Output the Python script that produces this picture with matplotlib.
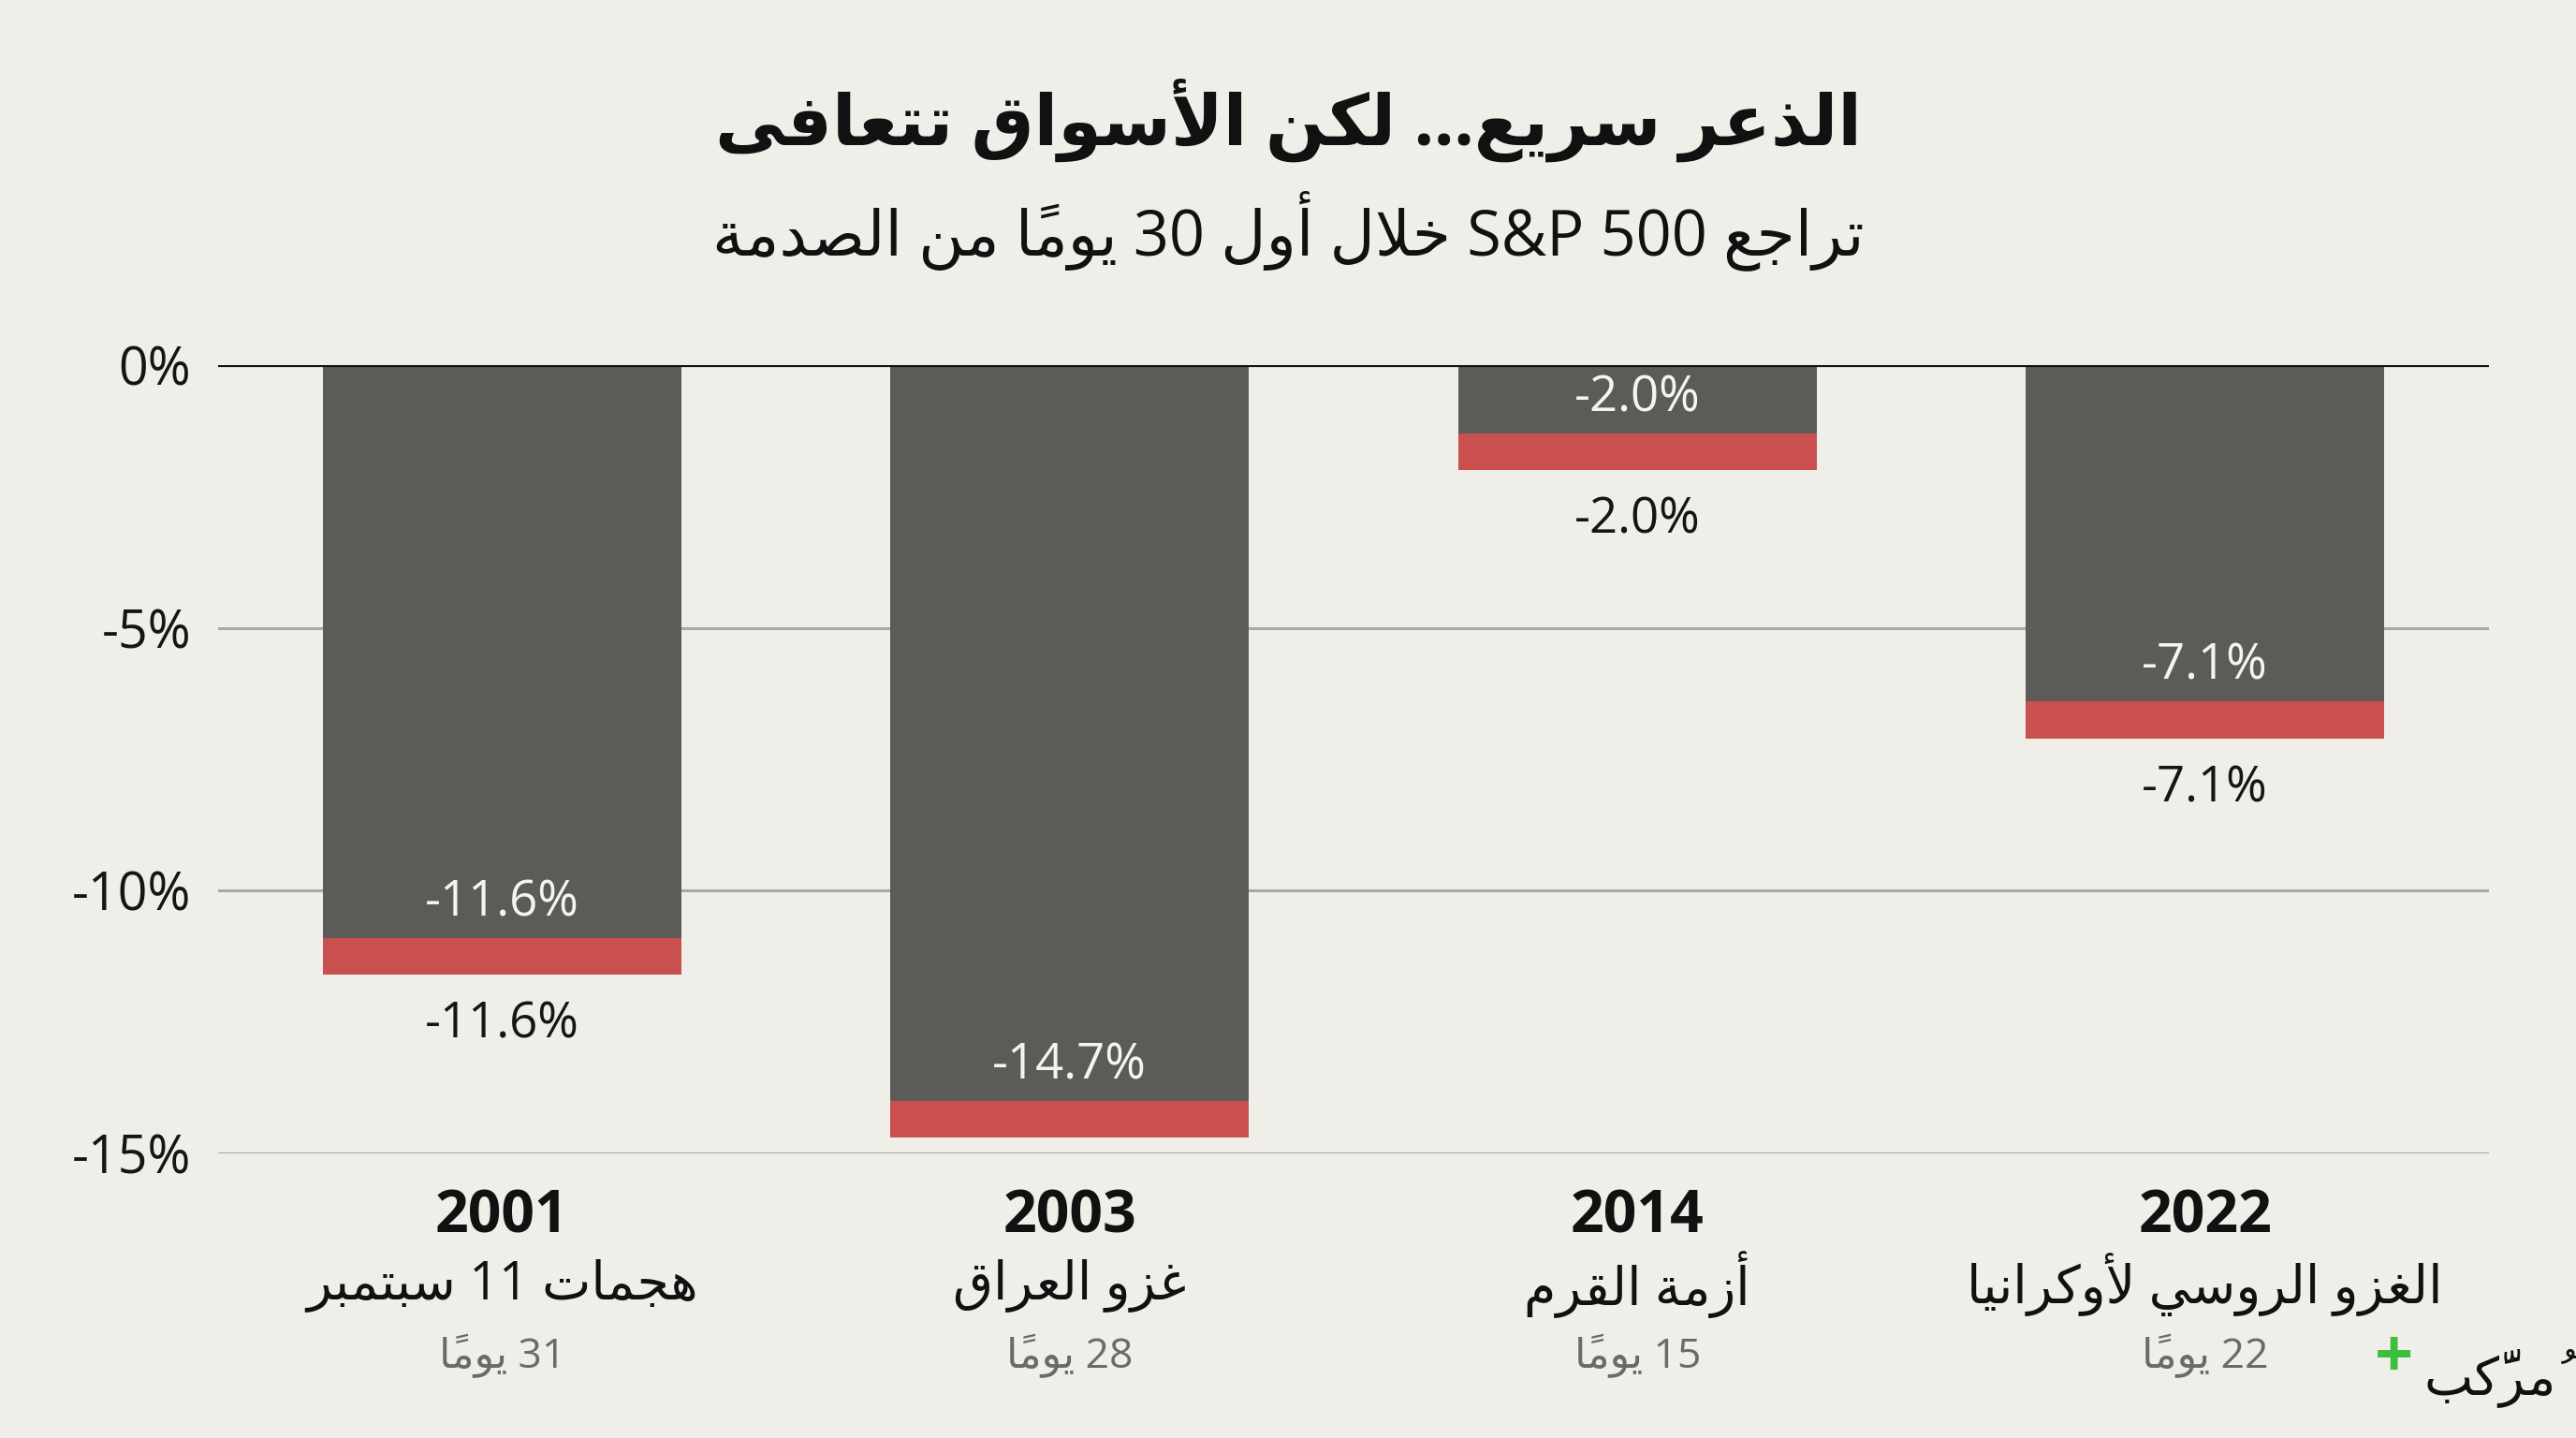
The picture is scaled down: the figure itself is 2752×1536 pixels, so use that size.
import matplotlib
matplotlib.use("Agg")
import matplotlib.pyplot as plt

# البيانات
years = ["2001", "2003", "2014", "2022"]
events = ["هجمات 11 سبتمبر", "غزو العراق", "أزمة القرم", "الغزو الروسي لأوكرانيا"]
days = ["31 يوماً", "28 يوماً", "15 يوماً", "22 يوماً"]
drops = [-11.6, -14.7, -2.0, -7.1]
show_below = [True, False, True, True]
yticks = [0, -5, -10, -15]
ytick_labels = ["0%", "-5%", "-10%", "-15%"]
title = "الذعر سريع... لكن الأسواق تتعافى"
subtitle = "تراجع S&P 500 خلال أول 30 يوماً من الصدمة"
logo = "مُركَّب"

# تشكيل الحروف العربية يدويا (matplotlib لا يربط الحروف)
_AR = {0x0621: (0xFE80, 1), 0x0622: (0xFE81, 2), 0x0623: (0xFE83, 2), 0x0624: (0xFE85, 2),
       0x0625: (0xFE87, 2), 0x0626: (0xFE89, 4), 0x0627: (0xFE8D, 2), 0x0628: (0xFE8F, 4),
       0x0629: (0xFE93, 2), 0x062A: (0xFE95, 4), 0x062B: (0xFE99, 4), 0x062C: (0xFE9D, 4),
       0x062D: (0xFEA1, 4), 0x062E: (0xFEA5, 4), 0x062F: (0xFEA9, 2), 0x0630: (0xFEAB, 2),
       0x0631: (0xFEAD, 2), 0x0632: (0xFEAF, 2), 0x0633: (0xFEB1, 4), 0x0634: (0xFEB5, 4),
       0x0635: (0xFEB9, 4), 0x0636: (0xFEBD, 4), 0x0637: (0xFEC1, 4), 0x0638: (0xFEC5, 4),
       0x0639: (0xFEC9, 4), 0x063A: (0xFECD, 4), 0x0641: (0xFED1, 4), 0x0642: (0xFED5, 4),
       0x0643: (0xFED9, 4), 0x0644: (0xFEDD, 4), 0x0645: (0xFEE1, 4), 0x0646: (0xFEE5, 4),
       0x0647: (0xFEE9, 4), 0x0648: (0xFEED, 2), 0x0649: (0xFEEF, 2), 0x064A: (0xFEF1, 4)}
_LA = {0x0622: 0xFEF5, 0x0623: 0xFEF7, 0x0625: 0xFEF9, 0x0627: 0xFEFB}


def is_mark(c):
    return 0x064B <= ord(c) <= 0x065F or ord(c) == 0x0670


def shape_word(w):
    units = []
    for c in w:
        if is_mark(c) and units:
            units[-1][1] += c
        else:
            units.append([c, ""])
    # لام ألف
    merged = []
    for u in units:
        if merged and merged[-1][0] == "\u0644" and ord(u[0]) in _LA:
            merged[-1] = [("LA", _LA[ord(u[0])]), merged[-1][1] + u[1]]
        else:
            merged.append(u)

    def nforms(u):
        if isinstance(u[0], tuple):
            return 2
        return _AR.get(ord(u[0]), (0, 0))[1]

    out = []
    for i, u in enumerate(merged):
        n = nforms(u)
        if n == 0:
            out.append(u[0] + u[1])
            continue
        prev_ok = i > 0 and nforms(merged[i - 1]) == 4 and n >= 2
        next_ok = i < len(merged) - 1 and n == 4 and nforms(merged[i + 1]) >= 2
        if isinstance(u[0], tuple):
            g = chr(u[0][1] + (1 if prev_ok else 0))
        else:
            start = _AR[ord(u[0])][0]
            if prev_ok and next_ok:
                k = 3
            elif prev_ok:
                k = 1
            elif next_ok:
                k = 2
            else:
                k = 0
            g = chr(start + k)
        out.append(g + u[1])
    return "".join(reversed(out))


def ar(text):
    runs = []
    for tok in text.split(" "):
        rtl = any(0x0600 <= ord(c) <= 0x06FF for c in tok)
        if not rtl and runs and not runs[-1][0]:
            runs[-1][1].append(tok)
        else:
            runs.append([rtl, [tok]])
    parts = []
    for rtl, toks in reversed(runs):
        if rtl:
            parts.append(shape_word(toks[0]))
        else:
            parts.append(" ".join(toks))
    return " ".join(parts)


FAM = ["Open Sans", "DejaVu Sans"]
plt.rcParams["font.family"] = FAM

bg = "#EFEEE8"
dark = "#5B5C57"
red = "#C9504F"
grid = "#A9A9A5"

fig = plt.figure(figsize=(27.52, 15.36), dpi=100, facecolor=bg)
ax = fig.add_axes([0.0847, 0.198, 0.8815, 0.548], facecolor=bg)

x = list(range(len(years)))
red_h = 0.7
for yv in yticks[1:]:
    ax.axhline(yv, color=grid, lw=2.2, zorder=1)
ax.bar(x, drops, width=0.632, color=dark, zorder=2)
ax.bar(x, [red_h] * len(drops), bottom=drops, width=0.632, color=red, zorder=3)
ax.axhline(0, color="#111111", lw=3, zorder=4)

for i, v in enumerate(drops):
    lab = f"{v:.1f}%"
    ax.text(i, v + 1.36, lab, ha="center", va="center", fontsize=38, color="#F4F4F0", zorder=5)
    if show_below[i]:
        ax.text(i, v - 0.96, lab, ha="center", va="center", fontsize=38, color="#151515", zorder=5)
    ax.text(i, -16.22, years[i], ha="center", va="center", fontsize=45, weight="bold",
            color="#111111", clip_on=False)
    ax.text(i, -17.5, ar(events[i]), ha="center", va="center", fontsize=40,
            color="#111111", clip_on=False)
    ax.text(i, -18.87, ar(days[i]), ha="center", va="center", fontsize=32,
            color="#6A6A66", clip_on=False)

ax.set_xlim(-0.5, 3.5)
ax.set_ylim(-15, 0)
ax.set_xticks([])
ax.set_yticks(yticks)
ax.set_yticklabels(ytick_labels, fontsize=40, color="#151515")
ax.tick_params(axis="y", length=0, pad=21)
for s in ax.spines.values():
    s.set_visible(False)

fig.text(0.5, 1 - 128 / 1536, ar(title), ha="center", va="center", fontsize=54,
         weight="bold", color="#111111")
fig.text(0.5, 1 - 246 / 1536, ar(subtitle), ha="center", va="center", fontsize=48,
         color="#111111")

# الشعار
fig.text(2660 / 2752, 1 - 1472 / 1536, ar(logo), ha="center", va="center", fontsize=40,
         color="#111111")
fig.text(2558 / 2752, 1 - 1452 / 1536, "+", ha="center", va="center", fontsize=52,
         weight="bold", color="#3DBE3D")

fig.savefig("out.png", dpi=100, facecolor=bg)
